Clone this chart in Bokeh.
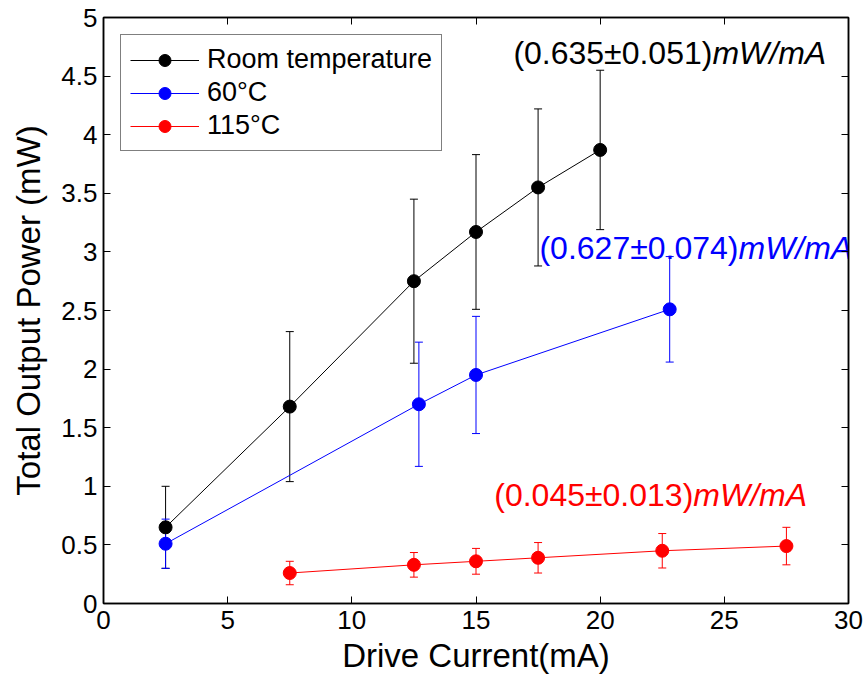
from bokeh.plotting import figure
from bokeh.models import (ColumnDataSource, Whisker, TeeHead, FixedTicker, LinearAxis,
                          CustomJSTickFormatter, Range1d)
from bokeh.core.properties import value
from bokeh.embed import file_html
from bokeh.resources import INLINE

# ---------------- data ----------------
room_x = [2.5, 7.5, 12.5, 15, 17.5, 20]
room_y = [0.65, 1.68, 2.75, 3.17, 3.55, 3.87]
room_err = [0.35, 0.64, 0.70, 0.66, 0.67, 0.68]

t60_x = [2.5, 12.7, 15, 22.8]
t60_y = [0.51, 1.70, 1.95, 2.51]
t60_err = [0.21, 0.53, 0.50, 0.45]

t115_x = [7.5, 12.5, 15, 17.5, 22.5, 27.5]
t115_y = [0.26, 0.33, 0.36, 0.39, 0.45, 0.49]
t115_err = [0.10, 0.105, 0.11, 0.13, 0.147, 0.16]

series_names = ["Room temperature", "60°C", "115°C"]
series_colors = ["#000000", "#0000FF", "#FF0000"]

slope_text = ["(0.635±0.051)", "(0.627±0.074)", "(0.045±0.013)"]
slope_unit = ["mW/mA", "mW/mA", "mW/mA"]
slope_x = [24.52, 25.57, 23.75]
slope_y = [4.70, 3.03, 0.93]

x_ticks = [0, 5, 10, 15, 20, 25, 30]
y_ticks = [0, 0.5, 1, 1.5, 2, 2.5, 3, 3.5, 4, 4.5, 5]

FONT = "Liberation Sans"

p = figure(width=865, height=679, x_range=Range1d(0, 30), y_range=Range1d(0, 5),
           output_backend="svg", toolbar_location=None,
           min_border_left=103, min_border_right=17, min_border_top=17, min_border_bottom=76,
           x_axis_label="Drive Current(mA)", y_axis_label="Total Output Power (mW)")
p.xgrid.visible = False
p.ygrid.visible = False
p.outline_line_color = "black"
p.outline_line_width = 1.5
p.background_fill_color = "white"
p.border_fill_color = "white"

def style_axis(ax, ticks, labels=True):
    ax.ticker = FixedTicker(ticks=ticks)
    ax.major_tick_in = 7
    ax.major_tick_out = 0
    ax.minor_tick_line_color = None
    ax.axis_line_color = "black"
    ax.axis_line_width = 1.5
    ax.major_tick_line_color = "black"
    ax.major_tick_line_width = 1
    if labels:
        ax.formatter = CustomJSTickFormatter(code="return tick.toString();")
        ax.major_label_text_font = FONT
        ax.major_label_text_font_size = "26px"
        ax.major_label_text_color = "black"
        ax.axis_label_text_font = FONT
        ax.axis_label_text_font_size = "33px"
        ax.axis_label_text_font_style = "normal"
        ax.axis_label_text_color = "black"
    else:
        ax.formatter = CustomJSTickFormatter(code="return '';")
        ax.major_label_text_font_size = "1px"
        ax.major_label_standoff = 0

style_axis(p.xaxis[0], x_ticks)
style_axis(p.yaxis[0], y_ticks)
p.xaxis[0].major_label_standoff = 7
p.xaxis[0].axis_label_standoff = 5
p.yaxis[0].major_label_standoff = 6
p.yaxis[0].axis_label_standoff = 11

top_ax = LinearAxis()
style_axis(top_ax, x_ticks, labels=False)
p.add_layout(top_ax, "above")
right_ax = LinearAxis()
style_axis(right_ax, y_ticks, labels=False)
p.add_layout(right_ax, "right")

series = [(room_x, room_y, room_err), (t60_x, t60_y, t60_err), (t115_x, t115_y, t115_err)]
for (xs, ys, es), name, col in zip(series, series_names, series_colors):
    src = ColumnDataSource(dict(x=xs, y=ys,
                                upper=[y + e for y, e in zip(ys, es)],
                                lower=[y - e for y, e in zip(ys, es)]))
    w = Whisker(source=src, base="x", upper="upper", lower="lower", dimension="height",
                line_color=col, line_width=1,
                upper_head=TeeHead(size=8, line_color=col, line_width=1),
                lower_head=TeeHead(size=8, line_color=col, line_width=1))
    w.level = "underlay"
    p.add_layout(w)
    p.line("x", "y", source=src, line_color=col, line_width=1, legend_label=name)
    p.scatter("x", "y", source=src, marker="circle", size=13, fill_color=col,
              line_color=col, legend_label=name)

ann = ColumnDataSource(dict(x=slope_x, y=slope_y, t=slope_text, u=slope_unit, c=series_colors))
p.text(x="x", y="y", text="t", source=ann, text_color="c", text_font=value(FONT),
       text_font_size=value("32px"), text_align="right", text_baseline="middle")
p.text(x="x", y="y", text="u", source=ann, text_color="c", text_font=value(FONT),
       text_font_size=value("32px"), text_font_style="italic",
       text_align="left", text_baseline="middle")

lg = p.legend[0]
lg.location = "top_left"
lg.margin = 17
lg.padding = 9
lg.spacing = 2
lg.glyph_width = 69
lg.glyph_height = 30
lg.label_height = 30
lg.label_standoff = 8
lg.label_text_font = FONT
lg.label_text_font_size = "27px"
lg.label_text_color = "black"
lg.border_line_color = "black"
lg.border_line_width = 1.5
lg.background_fill_color = "white"
lg.background_fill_alpha = 1

open("out.html", "w").write(file_html(p, INLINE))
